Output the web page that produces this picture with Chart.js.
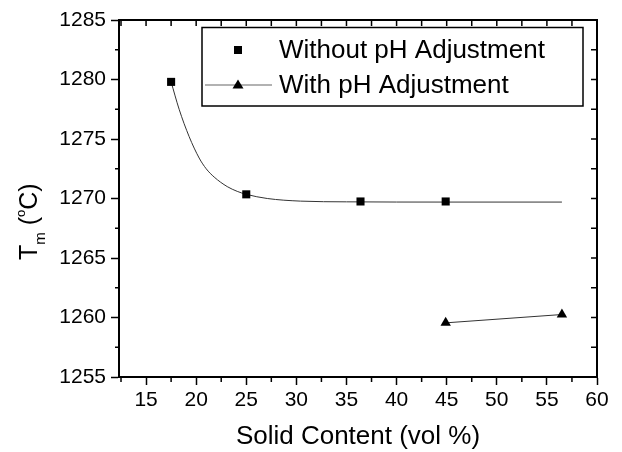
<!DOCTYPE html>
<html>
<head>
<meta charset="utf-8">
<title>Tm vs Solid Content</title>
<script src="https://cdn.jsdelivr.net/npm/chart.js@4.4.0/dist/chart.umd.min.js"></script>
<style>
  html, body { margin: 0; padding: 0; background: #fff; }
  #wrap { width: 622px; height: 452px; }
</style>
</head>
<body>
<div id="wrap"><canvas id="myChart" width="622" height="452"></canvas></div>
<script>
// measured points
const solidContent = [17.5, 25, 36.4, 44.9];
const tmWithout = [1279.8, 1270.35, 1269.75, 1269.75];
const solidContentPh = [44.9, 56.5];
const tmWith = [1259.55, 1260.25];

// decay fit drawn through the "without" series
const fitX = [17.5, 18.3, 19.3, 20.3, 21.0, 21.8, 23.1, 24.1, 25.0, 27.1, 30.4, 35, 45, 56.5];
const fitY = [1279.8, 1277.5, 1275.2, 1273.4, 1272.5, 1271.8, 1271.0, 1270.6, 1270.35, 1270.0, 1269.78, 1269.72, 1269.7, 1269.7];

const xTicks = [15, 20, 25, 30, 35, 40, 45, 50, 55, 60];
const yTicks = [1255, 1260, 1265, 1270, 1275, 1280, 1285];
const xMinor = [12.5, 17.5, 22.5, 27.5, 32.5, 37.5, 42.5, 47.5, 52.5, 57.5];
const yMinor = [1257.5, 1262.5, 1267.5, 1272.5, 1277.5, 1282.5];

const legendLabels = ['Without pH Adjustment', 'With pH Adjustment'];
const xTitle = 'Solid Content (vol %)';

const FONT = "'Liberation Sans', Arial, Helvetica, sans-serif";

const toPoints = (xs, ys) => xs.map((x, i) => ({x: x, y: ys[i]}));

// frame, minor ticks, titles and the boxed legend
const extras = {
  id: 'extras',
  afterDraw(chart) {
    const {ctx, chartArea: a, scales: {x, y}} = chart;
    ctx.save();
    ctx.strokeStyle = '#000';
    ctx.fillStyle = '#000';

    // top + right axis lines
    ctx.lineWidth = 2;
    ctx.beginPath();
    ctx.moveTo(a.left - 1, a.top);
    ctx.lineTo(a.right, a.top);
    ctx.lineTo(a.right, a.bottom + 1);
    ctx.stroke();

    ctx.lineWidth = 1.5;
    ctx.beginPath();
    // bottom / left minor ticks (outside)
    xMinor.forEach(v => {
      const px = x.getPixelForValue(v);
      ctx.moveTo(px, a.bottom); ctx.lineTo(px, a.bottom + 5);
    });
    yMinor.forEach(v => {
      const py = y.getPixelForValue(v);
      ctx.moveTo(a.left, py); ctx.lineTo(a.left - 4, py);
    });
    // top / right ticks (inside)
    xTicks.concat(xMinor).forEach(v => {
      const px = x.getPixelForValue(v);
      if (px <= a.left + 2 || px >= a.right - 2) return;
      ctx.moveTo(px, a.top); ctx.lineTo(px, a.top + 6);
    });
    yTicks.concat(yMinor).forEach(v => {
      const py = y.getPixelForValue(v);
      if (py <= a.top + 2 || py >= a.bottom - 2) return;
      ctx.moveTo(a.right, py); ctx.lineTo(a.right - 6, py);
    });
    ctx.stroke();

    // x title
    ctx.font = '26px ' + FONT;
    ctx.textAlign = 'center';
    ctx.textBaseline = 'middle';
    ctx.fillText(xTitle, (a.left + a.right) / 2, 437);

    // y title: T_m (°C), rotated
    ctx.save();
    ctx.translate(37, 260);
    ctx.rotate(-Math.PI / 2);
    ctx.textAlign = 'left';
    ctx.textBaseline = 'alphabetic';
    let cx = 0;
    ctx.font = '25px ' + FONT;
    ctx.fillText('T', cx, 0);
    cx += ctx.measureText('T').width;
    ctx.font = '15px ' + FONT;
    ctx.fillText('m', cx, 8);
    cx += ctx.measureText('m').width;
    ctx.font = '25px ' + FONT;
    ctx.fillText(' (', cx, 0);
    cx += ctx.measureText(' (').width;
    ctx.font = '13px ' + FONT;
    ctx.fillText('o', cx, -12);
    cx += ctx.measureText('o').width;
    ctx.font = '25px ' + FONT;
    ctx.fillText('C)', cx, 0);
    ctx.restore();

    // legend box
    ctx.lineWidth = 1.5;
    ctx.strokeRect(202, 27.5, 381, 78.5);

    // entry 1: square marker
    ctx.fillRect(234, 46, 8, 8);
    // entry 2: line + triangle
    ctx.strokeStyle = '#999';
    ctx.lineWidth = 1.5;
    ctx.beginPath();
    ctx.moveTo(205, 85); ctx.lineTo(272, 85);
    ctx.stroke();
    ctx.beginPath();
    ctx.moveTo(238, 79.5); ctx.lineTo(243.5, 88.5); ctx.lineTo(232.5, 88.5);
    ctx.closePath();
    ctx.fill();

    ctx.font = '26px ' + FONT;
    ctx.textAlign = 'left';
    ctx.textBaseline = 'middle';
    ctx.fillText(legendLabels[0], 279, 51);
    ctx.fillText(legendLabels[1], 279, 86);
    ctx.restore();
  }
};

const axisTicks = {
  color: '#000',
  font: {family: FONT, size: 21},
  autoSkip: false,
  maxRotation: 0,
  callback: v => String(v),
};

new Chart(document.getElementById('myChart'), {
  type: 'scatter',
  data: {
    datasets: [
      {
        label: 'fit',
        data: toPoints(fitX, fitY),
        showLine: true,
        borderColor: '#333',
        borderWidth: 1,
        pointRadius: 0,
        cubicInterpolationMode: 'monotone',
        order: 3,
      },
      {
        label: legendLabels[0],
        data: toPoints(solidContent, tmWithout),
        pointStyle: 'rect',
        pointRadius: 5.7,
        backgroundColor: '#000',
        borderColor: '#000',
        borderWidth: 0,
        order: 1,
      },
      {
        label: legendLabels[1],
        data: toPoints(solidContentPh, tmWith),
        showLine: true,
        borderColor: '#333',
        borderWidth: 1,
        pointStyle: 'triangle',
        pointRadius: 6,
        pointBackgroundColor: '#000',
        pointBorderColor: '#000',
        pointBorderWidth: 0,
        order: 2,
      },
    ],
  },
  options: {
    responsive: false,
    animation: false,
    layout: {padding: {top: 20, right: 25, left: 0, bottom: 0}},
    plugins: {legend: {display: false}, tooltip: {enabled: false}},
    scales: {
      x: {
        type: 'linear',
        min: 12.3,
        max: 60,
        afterBuildTicks: s => { s.ticks = xTicks.map(v => ({value: v})); },
        afterFit: s => { s.height = 75; },
        grid: {drawOnChartArea: false, tickLength: 8, tickColor: '#000', tickWidth: 1.5},
        border: {color: '#000', width: 2},
        ticks: {...axisTicks, padding: 3},
      },
      y: {
        type: 'linear',
        min: 1255,
        max: 1285,
        afterBuildTicks: s => { s.ticks = yTicks.map(v => ({value: v})); },
        afterFit: s => { s.width = 119; },
        grid: {drawOnChartArea: false, tickLength: 8, tickColor: '#000', tickWidth: 1.5},
        border: {color: '#000', width: 2},
        ticks: {...axisTicks, padding: 5},
      },
    },
  },
  plugins: [extras],
});
</script>
</body>
</html>
